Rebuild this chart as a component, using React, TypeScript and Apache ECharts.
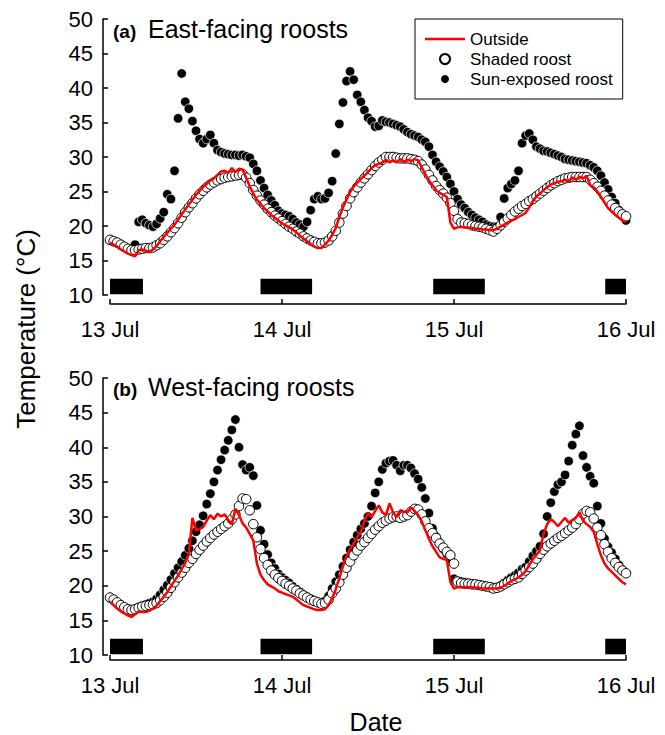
import React, { useEffect, useRef } from 'react';
import * as echarts from 'echarts';

// Sampling step of the logged temperatures (hours since 13 Jul 00:00)
const STEP_HOURS = 0.5;
const dateLabels = ['13 Jul', '14 Jul', '15 Jul', '16 Jul'];
const seriesNames = ['Outside', 'Shaded roost', 'Sun-exposed roost'];
// night periods (hours) shown as black bars
const nightPeriods: [number, number][] = [[0, 4.6], [21.0, 28.2], [45.1, 52.3], [69.1, 72]];
const nightBarRange = [10.1, 12.35];

// (a) East-facing roosts
const eastOutside = [
  17.6, 17.3, 17.0, 16.6, 16.3, 16.0, 15.8, 15.6, 16.5, 16.6, 16.4, 16.3,
  16.6, 17.1, 17.8, 18.4, 19.0, 19.6, 20.2, 20.9, 21.7, 22.4, 23.1, 23.8,
  24.5, 25.1, 25.7, 26.1, 26.6, 26.9, 27.4, 27.9, 28.0, 27.7, 28.4, 27.8,
  28.3, 28.2, 27.0, 25.7, 24.7, 23.8, 23.2, 22.6, 22.1, 21.6, 21.2, 20.8,
  20.4, 20.1, 19.8, 19.5, 19.1, 18.6, 18.2, 17.8, 17.4, 17.0, 16.8, 16.8,
  17.3, 17.9, 18.7, 19.7, 21.3, 22.7, 23.8, 24.9, 25.7, 26.3, 26.8, 27.3,
  27.8, 28.4, 28.8, 29.0, 29.2, 29.6, 29.2, 29.5, 29.2, 29.7, 29.3, 29.6,
  29.4, 29.7, 29.5, 28.5, 27.5, 26.6, 25.9, 25.2, 24.8, 24.5, 24.2, 20.5,
  19.6, 19.8, 19.9, 19.8, 19.8, 19.7, 19.6, 19.6, 19.5, 19.5, 19.4, 19.4,
  19.6, 19.9, 20.2, 20.5, 20.8, 21.0, 21.3, 21.6, 21.9, 22.7, 23.6, 24.3,
  24.7, 25.2, 25.6, 26.0, 26.2, 26.4, 26.5, 26.7, 26.5, 27.0, 26.7, 27.1,
  26.9, 27.3, 25.9, 25.6, 25.0, 24.2, 23.4, 22.6, 22.1, 21.6, 21.2, 20.8,
  20.6,
];
const eastShaded = [
  18.0, 17.8, 17.6, 17.3, 17.0, 16.7, 16.5, 16.5, 16.6, 16.7, 16.8, 16.8,
  16.9, 17.2, 17.5, 18.0, 18.5, 19.1, 19.7, 20.4, 21.2, 22.0, 22.7, 23.3,
  24.0, 24.6, 25.1, 25.6, 26.0, 26.3, 26.6, 26.8, 27.0, 27.1, 27.2, 27.3,
  27.4, 27.5, 27.0, 26.2, 25.2, 24.4, 23.7, 23.1, 22.5, 22.0, 21.5, 21.1,
  20.7, 20.3, 19.9, 19.6, 19.2, 18.9, 18.5, 18.2, 17.9, 17.7, 17.5, 17.5,
  17.6, 17.9, 18.5, 19.3, 20.5, 21.8, 22.9, 24.0, 24.9, 25.6, 26.3, 26.9,
  27.5, 28.1, 28.7, 29.2, 29.6, 30.0, 30.0, 30.0, 29.9, 29.8, 29.8, 29.8,
  29.7, 29.6, 29.4, 28.9, 28.2, 27.4, 26.6, 25.8, 25.2, 24.7, 24.1, 23.3,
  22.2, 21.0, 20.5, 20.4, 20.3, 20.1, 20.0, 19.9, 19.8, 19.6, 19.4, 19.2,
  19.6, 20.1, 20.6, 21.1, 21.6, 22.1, 22.5, 22.9, 23.2, 23.6, 23.9, 24.3,
  24.7, 25.1, 25.5, 25.9, 26.2, 26.5, 26.7, 26.9, 27.0, 27.1, 27.1, 27.1,
  27.1, 27.1, 26.7, 26.2, 25.7, 25.1, 24.4, 23.7, 23.1, 22.6, 22.1, 21.7,
  21.4,
];
const eastSun = [
  17.9, 17.7, 17.5, 17.2, 16.9, 16.6, 16.4, 17.3, 20.6, 20.9, 20.4, 20.1,
  19.9, 20.3, 21.1, 22.0, 24.6, 23.9, 28.0, 35.6, 42.1, 38.0, 37.0, 35.2,
  33.8, 32.6, 32.0, 32.6, 33.2, 32.0, 31.0, 30.7, 30.5, 30.4, 30.3, 30.3,
  30.2, 30.3, 30.1, 29.9, 29.0, 28.0, 26.6, 25.5, 24.5, 23.7, 23.0, 22.2,
  21.8, 21.6, 21.4, 21.0, 20.5, 20.2, 19.9, 20.6, 22.3, 23.9, 24.3, 23.9,
  24.0, 24.8, 26.5, 30.5, 34.8, 37.9, 41.0, 42.4, 41.2, 39.0, 38.0, 36.8,
  35.7, 35.2, 34.4, 34.5, 35.3, 35.1, 35.0, 34.8, 34.6, 34.4, 34.0, 33.6,
  33.3, 33.1, 32.9, 32.5, 32.2, 31.5, 30.3, 29.3, 28.6, 27.9, 27.1, 26.1,
  25.0, 23.9, 23.1, 22.6, 22.0, 21.6, 21.2, 20.9, 20.6, 20.2, 20.0, 19.9,
  19.9, 21.3, 24.0, 25.5, 26.1, 26.6, 28.0, 32.0, 33.1, 33.4, 32.5, 31.5,
  31.2, 30.9, 30.8, 30.6, 30.4, 30.2, 30.0, 29.7, 29.6, 29.5, 29.4, 29.3,
  29.2, 29.1, 28.8, 28.5, 28.0, 27.3, 26.3, 25.3, 24.2, 23.3, 22.3, 21.5,
  20.8,
];

// (b) West-facing roosts
const westOutside = [
  17.7, 17.2, 16.7, 16.3, 16.0, 15.7, 15.5, 15.9, 16.3, 16.2, 16.2, 16.4,
  16.7, 17.1, 17.8, 18.4, 19.1, 19.9, 20.7, 21.5, 22.4, 23.3, 24.6, 29.8,
  28.0, 28.2, 28.5, 29.4, 30.2, 29.6, 30.4, 30.0, 30.3, 29.5, 28.9, 31.1,
  30.2, 29.0, 28.4, 27.5, 26.5, 23.2, 21.6, 20.8, 20.2, 19.9, 19.6, 19.2,
  19.0, 18.8, 18.6, 18.4, 18.0, 17.6, 17.2, 17.0, 16.8, 16.6, 16.5, 16.5,
  16.6, 17.2, 18.2, 19.5, 21.1, 22.8, 24.3, 25.3, 26.1, 27.0, 27.8, 29.4,
  30.5, 29.9, 30.8, 31.6, 30.6, 30.2, 31.9, 30.6, 29.9, 30.9, 30.7, 30.6,
  31.3, 30.8, 30.2, 29.3, 28.0, 26.8, 25.7, 24.9, 24.1, 23.9, 23.7, 20.5,
  19.6, 19.8, 19.8, 19.8, 19.8, 19.8, 19.7, 19.7, 19.6, 19.6, 19.6, 19.6,
  19.6, 19.7, 20.0, 20.3, 20.7, 20.9, 21.2, 21.6, 22.1, 23.0, 23.8, 24.5,
  25.1, 27.5, 28.9, 29.6, 29.2, 28.6, 29.2, 29.8, 29.1, 29.5, 29.8, 30.6,
  29.4, 28.9, 28.5, 27.8, 26.0, 24.4, 23.2, 22.5, 22.0, 21.5, 21.0, 20.5,
  20.2,
];
const westShaded = [
  18.3, 18.0, 17.6, 17.2, 16.9, 16.6, 16.5, 16.6, 16.8, 17.0, 17.1, 17.2,
  17.3, 17.5, 17.9, 18.4, 19.0, 19.7, 20.5, 21.2, 21.9, 22.6, 23.3, 23.9,
  24.6, 25.2, 25.8, 26.4, 26.9, 27.4, 27.8, 28.2, 28.6, 29.0, 29.6, 30.3,
  31.5, 32.6, 32.5, 30.9, 28.9, 27.0, 25.3, 24.0, 23.0, 22.2, 21.6, 21.1,
  20.7, 20.3, 20.0, 19.6, 19.3, 18.9, 18.6, 18.3, 18.0, 17.8, 17.6, 17.4,
  17.5, 18.0, 18.9, 19.6, 20.5, 21.6, 22.6, 23.5, 24.4, 25.1, 25.8, 26.3,
  26.9, 27.5, 28.1, 28.6, 29.1, 29.4, 29.7, 29.9, 30.0, 29.8, 30.0, 30.2,
  30.7, 31.1, 31.0, 30.3, 29.3, 28.3, 27.6, 26.9, 26.1, 25.5, 24.9, 24.4,
  23.2, 20.6, 20.4, 20.3, 20.3, 20.2, 20.2, 20.1, 20.0, 19.9, 19.8, 19.6,
  19.7, 19.9, 20.2, 20.5, 20.8, 21.0, 21.2, 21.7, 22.2, 22.7, 23.2, 23.9,
  24.6, 25.2, 25.7, 26.1, 26.5, 26.9, 27.2, 27.6, 28.0, 28.4, 28.9, 29.6,
  30.4, 30.8, 30.6, 29.7, 28.4, 27.3, 26.0, 24.9, 24.0, 23.3, 22.7, 22.2,
  21.8,
];
const westSun = [
  18.2, 17.9, 17.5, 17.1, 16.8, 16.5, 16.4, 16.6, 16.9, 17.1, 17.3, 17.5,
  17.7, 18.1, 18.7, 19.4, 20.1, 20.9, 21.8, 22.6, 23.5, 24.4, 25.4, 26.5,
  27.8, 28.8, 30.1, 31.8, 33.3, 35.0, 36.7, 38.2, 39.6, 41.0, 42.5, 44.0,
  40.0, 37.5, 36.7, 37.1, 35.9, 31.6, 28.0, 26.0, 24.5, 23.3, 22.5, 21.7,
  21.2, 20.8, 20.4, 19.9, 19.5, 19.1, 18.7, 18.4, 18.1, 17.8, 17.6, 17.4,
  17.8, 18.5, 19.6, 20.6, 21.6, 22.8, 24.0, 25.2, 26.3, 27.3, 28.2, 29.0,
  30.0, 31.5, 33.4, 35.0, 36.8, 37.7, 38.0, 38.1, 37.4, 36.6, 37.4, 37.4,
  37.0, 36.2, 35.4, 34.2, 32.6, 30.5, 28.3, 27.1, 26.1, 25.3, 24.6, 23.8,
  21.0, 20.7, 20.6, 20.5, 20.4, 20.3, 20.2, 20.1, 20.0, 19.9, 19.8, 19.8,
  19.8, 20.0, 20.4, 20.8, 21.2, 21.5, 21.9, 22.4, 22.7, 23.5, 24.3, 25.0,
  25.7, 27.5, 30.0, 32.0, 33.6, 34.6, 35.0, 36.0, 38.0, 40.3, 41.9, 43.1,
  38.8, 37.1, 35.8, 34.8, 31.5, 29.0, 26.8, 25.6, 24.8, 23.9, 23.0, 22.3,
  21.8,
];

const FONT = "'Liberation Sans', Arial, Helvetica, sans-serif";
// legend glyph for the red line: a 40x2.6 bar inside a 40x10 box
const LINE_ICON = 'path://M0,0L0,0ZM0,3.7L40,3.7L40,6.3L0,6.3ZM40,10L40,10Z';

function toPoints(vals: number[]): number[][] {
  return vals.map((v, i) => [i * STEP_HOURS, v]);
}

const panels = [
  { title: '(a)', subtitle: 'East-facing roosts', outside: eastOutside, shaded: eastShaded, sun: eastSun,
    grid: { left: 110, top: 19, width: 516, height: 276 }, xOffset: 9, titleBaseline: 38 },
  { title: '(b)', subtitle: 'West-facing roosts', outside: westOutside, shaded: westShaded, sun: westSun,
    grid: { left: 110, top: 378, width: 516, height: 277 }, xOffset: 5, titleBaseline: 396 },
];

export default function App() {
  const ref = useRef<HTMLDivElement>(null);
  useEffect(() => {
    if (!ref.current) return;
    const chart = echarts.init(ref.current, null, { renderer: 'svg' });
    const series: any[] = [];
    panels.forEach((p, idx) => {
      series.push({
        type: 'scatter', name: seriesNames[2], xAxisIndex: idx, yAxisIndex: idx,
        data: toPoints(p.sun), symbol: 'circle', symbolSize: 9.5,
        itemStyle: { color: '#000', borderColor: '#fff', borderWidth: 0.7, opacity: 1 }, z: 2,
      });
      series.push({
        type: 'scatter', name: seriesNames[1], xAxisIndex: idx, yAxisIndex: idx,
        data: toPoints(p.shaded), symbol: 'circle', symbolSize: 9.5,
        itemStyle: { color: '#fff', borderColor: '#000', borderWidth: 1, opacity: 1 }, z: 3,
      });
      series.push({
        type: 'line', name: seriesNames[0], xAxisIndex: idx, yAxisIndex: idx,
        data: toPoints(p.outside), symbol: 'none', showSymbol: false,
        lineStyle: { color: '#ff0000', width: 2.5 }, itemStyle: { color: '#ff0000' }, z: 4,
        markArea: {
          silent: true,
          itemStyle: { color: '#000', opacity: 1 },
          data: nightPeriods.map(([a, b]) => [
            { xAxis: a, yAxis: nightBarRange[0] },
            { xAxis: b, yAxis: nightBarRange[1] },
          ]),
        },
      });
    });

    const option: any = {
      animation: false,
      backgroundColor: '#fff',
      textStyle: { fontFamily: FONT },
      title: panels.flatMap((p) => [
        { text: p.title, left: 113, top: p.titleBaseline - 16.5, padding: 0,
          textStyle: { fontSize: 19, fontWeight: 'bold', color: '#000', fontFamily: FONT } },
        { text: p.subtitle, left: 148, top: p.titleBaseline - 21.5, padding: 0,
          textStyle: { fontSize: 25, fontWeight: 'normal', color: '#000', fontFamily: FONT } },
      ]),
      legend: {
        data: [
          { name: seriesNames[0], icon: LINE_ICON, itemStyle: { color: '#ff0000', borderWidth: 0 } },
          { name: seriesNames[1], icon: 'circle' },
          { name: seriesNames[2], icon: 'circle' },
        ],
        orient: 'vertical', left: 415, top: 19, padding: 10, itemGap: 0,
        itemWidth: 40, itemHeight: 10, itemTextGap: 10,
        borderColor: '#000', borderWidth: 1, backgroundColor: '#fff',
        selectedMode: false,
        textStyle: { fontSize: 17, color: '#000', fontFamily: FONT, lineHeight: 20 },
      },
      grid: panels.map((p) => ({ ...p.grid })),
      xAxis: panels.map((p, idx) => ({
        type: 'value', gridIndex: idx, min: 0, max: 72, interval: 24, offset: p.xOffset,
        axisLine: { show: true, onZero: false, lineStyle: { color: '#000', width: 1.5 } },
        axisTick: { show: true, inside: true, length: 5, lineStyle: { color: '#000', width: 1.5 } },
        axisLabel: {
          show: true, margin: 14, fontSize: 22, color: '#000', fontFamily: FONT,
          showMinLabel: true, showMaxLabel: true,
          formatter: (v: number) => dateLabels[Math.round(v / 24)] ?? '',
        },
        splitLine: { show: false },
      })),
      yAxis: panels.map((p, idx) => ({
        type: 'value', gridIndex: idx, min: 10, max: 50, interval: 5, offset: 7,
        axisLine: { show: true, onZero: false, lineStyle: { color: '#000', width: 1.5 } },
        axisTick: { show: true, inside: true, length: 5, lineStyle: { color: '#000', width: 1.5 } },
        axisLabel: { show: true, margin: 10, fontSize: 22, color: '#000', fontFamily: FONT,
          showMinLabel: true, showMaxLabel: true },
        splitLine: { show: false },
      })),
      graphic: [
        { type: 'text', x: 26, y: 329, rotation: Math.PI / 2,
          style: { text: 'Temperature (°C)', fontSize: 26, fontFamily: FONT, fill: '#000',
            align: 'center', verticalAlign: 'middle' } },
        { type: 'text', x: 376, y: 722,
          style: { text: 'Date', fontSize: 25, fontFamily: FONT, fill: '#000',
            align: 'center', verticalAlign: 'middle' } },
      ],
      series,
    };
    chart.setOption(option);
    return () => chart.dispose();
  }, []);
  return (
    <div ref={ref} style={{ position: 'absolute', left: 0, top: 0, width: 665, height: 735, background: '#fff' }} />
  );
}
